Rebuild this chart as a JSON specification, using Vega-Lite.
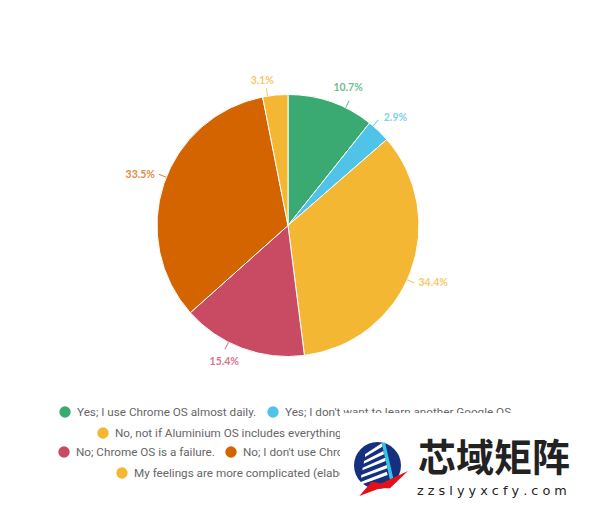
{"$schema":"https://vega.github.io/schema/vega-lite/v6.json","width":600,"height":513,"padding":0,"autosize":"none","background":"white","view":{"stroke":null},
"data":{"values":[
{"i":1,"answer":"Yes; I use Chrome OS almost daily.","value":10.7,"label":"10.7%"},
{"i":2,"answer":"Yes; I don't want to learn another Google OS.","value":2.9,"label":"2.9%"},
{"i":3,"answer":"No, not if Aluminium OS includes everything I need.","value":34.4,"label":"34.4%"},
{"i":4,"answer":"No; Chrome OS is a failure.","value":15.4,"label":"15.4%"},
{"i":5,"answer":"No; I don't use Chrome OS at all.","value":33.5,"label":"33.5%"},
{"i":6,"answer":"My feelings are more complicated (elaborate in comments).","value":3.1,"label":"3.1%"}]},
"encoding":{
"x":{"datum":288,"type":"quantitative","scale":{"domain":[0,600],"nice":false,"zero":false},"axis":null},
"y":{"datum":225.5,"type":"quantitative","scale":{"domain":[0,513],"reverse":true,"nice":false,"zero":false},"axis":null},
"color":{"field":"i","type":"nominal","legend":null,"scale":{"domain":[1,2,3,4,5,6],"range":["#3BAA72","#4FC3E8","#F4B733","#C94B63","#D46400","#F4B733"]}}},
"layer":[
{"mark":{"type":"arc","outerRadius":131,"stroke":"white","strokeWidth":1},
 "encoding":{"theta":{"field":"value","type":"quantitative","stack":true,"scale":{"domain":[0,100]}},"order":{"field":"i"}}},
{"transform":[{"stack":"value","sort":[{"field":"i"}],"as":["v0","v1"]},{"calculate":"(datum.v0+datum.v1)/2+[1.9,-0.9,1,1.8,0.85,-0.95][datum.i-1]","as":"tk"},{"calculate":"datum.tk-0.06","as":"m0"},{"calculate":"datum.tk+0.06","as":"m1"}],
 "mark":{"type":"arc","radius":131,"radius2":139,"opacity":0.75},
 "encoding":{"theta":{"field":"m0","type":"quantitative","stack":null},"theta2":{"field":"m1"}}},
{"transform":[{"calculate":"[6.56,12.5,30.97,56.94,80.2,97.2][datum.i-1]","as":"ang"},{"calculate":"[150,152,156,151,156,147][datum.i-1]","as":"rad"}],
 "mark":{"type":"text","font":"Lato","fontSize":10.5,"fontWeight":"bold","opacity":0.75},
 "encoding":{"theta":{"field":"ang","type":"quantitative","stack":null},"radius":{"field":"rad","type":"quantitative","scale":null},"text":{"field":"label"}}},

{"transform":[{"filter":"datum.i==1"}],"mark":{"type":"point","filled":true,"size":130,"opacity":1},"encoding":{"x":{"datum":65},"y":{"datum":412}}},
{"transform":[{"filter":"datum.i==1"}],"mark":{"type":"text","align":"left","font":"Roboto","fontSize":11.7},"encoding":{"x":{"datum":77},"y":{"datum":412},"color":{"value":"#666666"},"text":{"field":"answer"}}},
{"transform":[{"filter":"datum.i==2"}],"mark":{"type":"point","filled":true,"size":130,"opacity":1},"encoding":{"x":{"datum":273},"y":{"datum":412}}},
{"transform":[{"filter":"datum.i==2"}],"mark":{"type":"text","align":"left","font":"Roboto","fontSize":11.7},"encoding":{"x":{"datum":285},"y":{"datum":412},"color":{"value":"#666666"},"text":{"field":"answer"}}},
{"transform":[{"filter":"datum.i==3"}],"mark":{"type":"point","filled":true,"size":130,"opacity":1},"encoding":{"x":{"datum":103},"y":{"datum":433}}},
{"transform":[{"filter":"datum.i==3"}],"mark":{"type":"text","align":"left","font":"Roboto","fontSize":11.7},"encoding":{"x":{"datum":115},"y":{"datum":433},"color":{"value":"#666666"},"text":{"field":"answer"}}},
{"transform":[{"filter":"datum.i==4"}],"mark":{"type":"point","filled":true,"size":130,"opacity":1},"encoding":{"x":{"datum":64},"y":{"datum":452}}},
{"transform":[{"filter":"datum.i==4"}],"mark":{"type":"text","align":"left","font":"Roboto","fontSize":11.7},"encoding":{"x":{"datum":76},"y":{"datum":452},"color":{"value":"#666666"},"text":{"field":"answer"}}},
{"transform":[{"filter":"datum.i==5"}],"mark":{"type":"point","filled":true,"size":130,"opacity":1},"encoding":{"x":{"datum":231},"y":{"datum":452}}},
{"transform":[{"filter":"datum.i==5"}],"mark":{"type":"text","align":"left","font":"Roboto","fontSize":11.7},"encoding":{"x":{"datum":243},"y":{"datum":452},"color":{"value":"#666666"},"text":{"field":"answer"}}},
{"transform":[{"filter":"datum.i==6"}],"mark":{"type":"point","filled":true,"size":130,"opacity":1},"encoding":{"x":{"datum":122},"y":{"datum":473}}},
{"transform":[{"filter":"datum.i==6"}],"mark":{"type":"text","align":"left","font":"Roboto","fontSize":11.7},"encoding":{"x":{"datum":134},"y":{"datum":473},"color":{"value":"#666666"},"text":{"field":"answer"}}},

{"transform":[{"filter":"datum.i==1"}],"mark":{"type":"rect"},"encoding":{"x":{"datum":340},"x2":{"datum":600},"y":{"datum":413},"y2":{"datum":513},"color":{"value":"white"}}},
{"transform":[{"filter":"datum.i==1"}],"mark":{"type":"point","filled":true,"size":2206,"opacity":1},"encoding":{"x":{"datum":377.5},"y":{"datum":465.5},"color":{"value":"#14307F"}}},
{"transform":[{"filter":"datum.i==1"}],"mark":{"type":"point","filled":true,"size":4,"opacity":1,"shape":"M4.7,-21.7L8,-22.7L16.3,13.3L13,15Z"},"encoding":{"x":{"datum":377},"y":{"datum":465},"color":{"value":"#35C3E8"}}},
{"transform":[{"filter":"datum.i==1"}],"mark":{"type":"point","filled":true,"size":4,"opacity":1,"shape":"M-12,-10.7L4.7,-21.7L5.3,-18.3L-12,-8ZM-13,-4L6.3,-14L7,-10.7L-13.3,-1.3ZM-14.3,2.7L8,-7.3L8.7,-4L-14.7,5.3ZM-15.7,10L9.7,0L10.3,3.3L-16,12.7ZM-17,17.3L9.7,6.7L10.7,10L-17,20Z"},"encoding":{"x":{"datum":377},"y":{"datum":465},"color":{"value":"#FFFFFF"}}},
{"transform":[{"filter":"datum.i==1"}],"mark":{"type":"point","filled":true,"size":4,"opacity":1,"shape":"M-17.7,31L-5.3,16.7L4.7,18.3L31,6L13,23.3L3,23.3Z"},"encoding":{"x":{"datum":377},"y":{"datum":465},"color":{"value":"#E3101A"}}},
{"transform":[{"filter":"datum.i==1"}],"mark":{"type":"text","align":"left","font":"Noto Sans CJK SC","fontSize":38,"fontWeight":"bold"},"encoding":{"x":{"datum":418},"y":{"datum":460},"color":{"value":"#222222"},"text":{"value":"芯域矩阵"}}},
{"transform":[{"filter":"datum.i==1"}],"mark":{"type":"text","align":"left","font":"DejaVu Sans","fontSize":12.8},"encoding":{"x":{"datum":417},"y":{"datum":491},"color":{"value":"#222222"},"text":{"value":"z z s l y y x c f y . c o m"}}}
]}
